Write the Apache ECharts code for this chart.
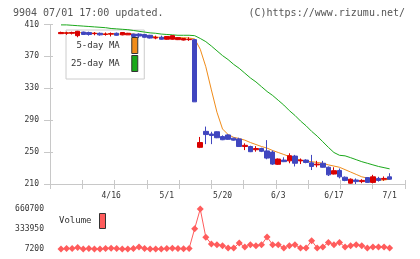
<!DOCTYPE html>
<html><head><meta charset="utf-8">
<script src="https://cdn.jsdelivr.net/npm/echarts@6/dist/echarts.min.js"></script>
<style>html,body{margin:0;padding:0;background:#fff}#c{width:420px;height:259px}</style>
</head><body><div id="c"></div>
<script>
const dates = ['4/3','4/4','4/5','4/8','4/9','4/10','4/11','4/12','4/15','4/16',
  '4/17','4/18','4/19','4/22','4/23','4/24','4/25','4/26','4/30','5/1',
  '5/7','5/8','5/9','5/10','5/13','5/14','5/15','5/16','5/17','5/20',
  '5/21','5/22','5/23','5/24','5/27','5/28','5/29','5/30','5/31','6/3',
  '6/4','6/5','6/6','6/7','6/10','6/11','6/12','6/13','6/14','6/17',
  '6/18','6/19','6/20','6/21','6/24','6/25','6/26','6/27','6/28','7/1'];
const openP = [398.5,399,399,396,400.5,400,398.5,399,397.5,398,
  399,397,397,398,398,397.5,396.5,393,394,391.5,
  391.5,391,390.5,391,391,256,276,272.7,275.5,269.5,
  271.5,267.5,266.5,257,257,253,254.5,251.5,250,234.7,
  240,239,245,239,240,236.5,234,236,231,222.5,
  227,218.5,211,215,213,218,212,217,216,219];
const closeP = [400,399.5,400,401.5,397.5,397.5,399,397,398,398.5,
  396.5,400,399,395,395.5,394,393,393.8,391.5,395,
  396,393.5,392.5,391.5,313,262,272,270.8,268,265.5,
  266,265,257,258.5,250.5,254.5,251,242.5,235,241.3,
  238,245.5,236,240,237,232,235,231,221.5,226.7,
  219,214.5,216,213,214.5,212,219,214.5,217,216];
const lowP = [398,397,397.5,394,397,396,396.5,396,396,395,
  396,396.5,397,394.5,393,393.5,392.5,391.5,391,391,
  391,390.5,390,389.5,313,255,260,260,267.5,265,
  265.5,264.5,256.5,252.5,250,250.5,250,241,234,234,
  237.5,236,232,235,236,227.5,231,230.5,220,222,
  217,213.5,210.5,210,211,211.5,211,213,214,215.5];
const highP = [401,401,401,402,401,401,400.5,400,400,400,
  400,400.5,399.5,398.5,399,398,397,396,396,395.5,
  396.5,394,393,394,391.5,269,282,275.5,276,271,
  272.5,268,268,261,258,257.5,255.5,265,252,242,
  243.5,248.5,246.5,242,241,246.5,239,239,232,231,
  229.5,219.5,217,217,216,218.5,221.5,219,219.5,223.5];
const ma5 = [399.5,399.5,399.5,400,399.5,399,399,398.5,398,398,
  398,398,398.5,398,397,396.5,395.5,394.5,393.5,393.5,
  393.5,393.5,393.5,393,392,379,357,328,300,279,
  272,268.5,267,265,262,259.5,257,255,252,249.5,
  247,244.5,242,240,238.5,238,237,236,234,232.5,
  231,228,225,222,219,217.5,216,215,215,216];
const ma25 = [409.5,409.5,409,408.5,408,407.5,407,406.5,406,405,
  404.5,404,403.5,402.5,401.5,400.5,399.5,399,398,397.5,
  397,396.5,396.5,396.5,396,392.5,388.5,383,377,371,
  366,360,355,349,343,338,332,326,321,315,
  309,302,296,289,283,276,270,263,256,249.5,
  246,245.3,243,240.5,238,236,234,232,230.5,229];
const volume = [8000,15000,15000,30000,9000,15000,9000,8000,15000,20000,
  15000,8000,8000,15000,40000,15000,9000,8000,8000,15000,
  20000,15000,11000,15000,340000,660700,200000,90000,77000,61000,
  23000,23000,105000,40000,77000,61000,77000,203000,77000,77000,
  23000,61000,77000,23000,23000,143000,23000,40000,115000,77000,
  115000,40000,61000,77000,61000,23000,40000,40000,40000,23000];
const priceTicks = [210,250,290,330,370,410];
const volumeTicks = [7200,333950,660700];
const dateLabelIdx = [9,19,29,39,49,59];

const FONT = 'DejaVu Sans Mono';
const AX = '#c8c8c8';
const XMIN = -1.975, XMAX = 61.76;
const candle = dates.map((d,i)=>[i, openP[i], closeP[i], lowP[i], highP[i]]);
const pair = arr => arr.map((v,i)=>[i,v]);

const chart = echarts.init(document.getElementById('c'), null, {renderer:'canvas'});
chart.setOption({
  animation:false,
  backgroundColor:'#fff',
  title:[
    {text:'9904 07/01 17:00 updated.', left:8, top:3, textStyle:{fontFamily:FONT,fontSize:10,fontWeight:'normal',color:'#555'}},
    {text:'(C)https://www.rizumu.net/', right:10, top:3, textStyle:{fontFamily:FONT,fontSize:10,fontWeight:'normal',color:'#555'}}
  ],
  legend:[
    {data:['5-day MA','25-day MA'], orient:'vertical', align:'right', left:66, top:30,
     padding:[7,6,7,5], itemGap:1, itemWidth:6, itemHeight:16, icon:'rect',
     backgroundColor:'#fff', borderColor:'#cccccc', borderWidth:1, z:1, selectedMode:false,
     textStyle:{fontFamily:FONT,fontSize:9,color:'#333',padding:[0,7,0,0]},
     itemStyle:{borderColor:'#333',borderWidth:1}},
    {data:['Volume'], orient:'vertical', align:'right', left:59, top:213,
     padding:0, itemWidth:6, itemHeight:15, icon:'rect', selectedMode:false,
     textStyle:{fontFamily:FONT,fontSize:9,color:'#333',padding:[0,3,0,0]},
     itemStyle:{borderColor:'#333',borderWidth:1}}
  ],
  grid:[
    {left:50,right:15,top:24.5,height:159.5,outerBoundsMode:'none'},
    {left:50,right:15,top:209,height:40,outerBoundsMode:'none'}
  ],
  xAxis:[
    {type:'value', gridIndex:0, min:XMIN, max:XMAX, position:'bottom',
     axisLine:{show:false,onZero:false}, axisTick:{show:false}, splitLine:{show:false},
     axisLabel:{customValues:dateLabelIdx, formatter:v=>dates[Math.round(v)], fontFamily:FONT, fontSize:8, color:'#333', margin:8}},
    {type:'value', gridIndex:0, min:0, max:11, interval:1, position:'bottom',
     axisLine:{show:true,onZero:false,lineStyle:{color:AX}}, axisTick:{show:true,length:5,lineStyle:{color:AX}},
     axisLabel:{show:false}, splitLine:{show:false}},
    {type:'value', gridIndex:0, min:0, max:11, interval:1, position:'bottom',
     axisLine:{show:false,onZero:false}, axisTick:{show:true,inside:true,length:4,lineStyle:{color:AX}},
     axisLabel:{show:false}, splitLine:{show:false}},
    {type:'value', gridIndex:1, min:XMIN, max:XMAX, show:false, axisLine:{onZero:false}}
  ],
  yAxis:[
    {type:'value', gridIndex:0, min:210, max:410, position:'left',
     axisLine:{show:true,onZero:false,lineStyle:{color:AX}},
     axisTick:{show:true,customValues:priceTicks,length:6,lineStyle:{color:AX}},
     axisLabel:{customValues:priceTicks, fontFamily:FONT, fontSize:8, color:'#333', margin:11},
     splitLine:{show:false}},
    {type:'value', gridIndex:0, min:210, max:410, position:'left',
     axisLine:{show:false,onZero:false},
     axisTick:{show:true,inside:true,customValues:priceTicks,length:3,lineStyle:{color:AX}},
     axisLabel:{show:false}, splitLine:{show:false}},
    {type:'value', gridIndex:1, min:7200, max:660700, position:'left',
     axisLine:{show:false,onZero:false}, axisTick:{show:false}, splitLine:{show:false},
     axisLabel:{customValues:volumeTicks, formatter:v=>String(v), fontFamily:FONT, fontSize:8, color:'#333', margin:6}}
  ],
  series:[
    {name:'5-day MA', type:'line', xAxisIndex:0, yAxisIndex:0, data:pair(ma5), symbol:'none', z:2,
     lineStyle:{color:'#f08c1a',width:1}, itemStyle:{color:'#f08c1a'}},
    {name:'25-day MA', type:'line', xAxisIndex:0, yAxisIndex:0, data:pair(ma25), symbol:'none', z:2,
     lineStyle:{color:'#1aa81a',width:1}, itemStyle:{color:'#1aa81a'}},
    {name:'price', type:'candlestick', xAxisIndex:0, yAxisIndex:0, data:candle, barWidth:5, z:3,
     itemStyle:{color:'#d80000', color0:'#4046bf', borderColor:'#d80000', borderColor0:'#4046bf', borderWidth:1}},
    {name:'Volume', type:'line', xAxisIndex:3, yAxisIndex:2, data:pair(volume), symbol:'diamond', symbolSize:7,
     lineStyle:{color:'#ff5c5c',width:1}, itemStyle:{color:'#ff5c5c'}}
  ]
});
</script>
</body></html>
